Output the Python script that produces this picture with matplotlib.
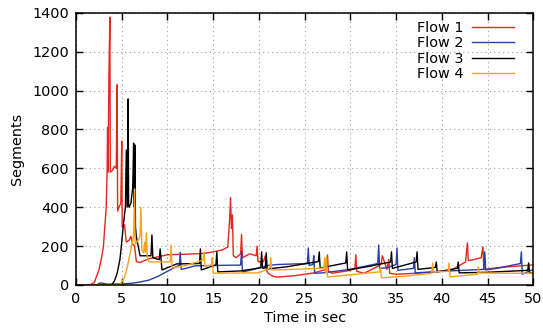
import matplotlib
matplotlib.use("Agg")
import matplotlib.pyplot as plt

# flow traces (time in sec, segments)
flow1_t = [0, 1.5, 2.0, 2.5, 2.8, 3.0, 3.3, 3.4, 3.45, 3.5, 3.6, 3.7, 3.75, 4.0, 4.2, 4.4, 4.5, 4.55,
           4.7, 4.9, 5.0, 5.05, 5.3, 5.5, 5.8, 6.0, 6.2, 6.4, 6.6, 7.0, 8.0, 9.0, 10.0, 12.0, 14.0,
           15.0, 16.0, 16.6, 16.8, 16.9, 17.0, 17.1, 17.2, 17.5, 18.0, 18.1, 18.2, 19.0, 19.7, 19.8,
           19.9, 20.5, 20.7, 20.8, 21.0, 21.5, 22.0, 24.0, 26.0, 27.4, 27.5, 27.6, 28.0, 30.0, 30.5,
           30.6, 30.7, 31.5, 33.2, 33.4, 33.5, 34.0, 34.2, 34.3, 35.0, 38.0, 41.0, 42.6, 42.8, 42.9,
           43.5, 44.3, 44.5, 44.6, 46.0, 48.0, 50.0]
flow1_v = [0, 0, 12, 77, 140, 200, 400, 580, 810, 580, 1080, 1378, 580, 590, 610, 600, 1030, 380,
           400, 420, 740, 300, 310, 220, 230, 250, 210, 200, 120, 115, 135, 145, 155, 158, 162,
           170, 180, 195, 340, 450, 290, 360, 150, 140, 160, 260, 140, 160, 150, 200,
           120, 120, 150, 80, 60, 45, 40, 48, 62, 80, 154, 70, 60, 75, 85,
           155, 70, 60, 100, 113, 150, 80, 130, 60, 55, 62, 75, 118, 216, 125,
           130, 140, 196, 80, 88, 96, 103]

flow2_t = [0, 2.3, 2.6, 3.0, 3.4, 5.0, 6.0, 7.0, 8.0, 9.0, 10.0, 11.0, 11.3, 11.4, 11.5, 12.0, 13.0,
           15.0, 18.0, 18.1, 18.2, 19.0, 20.0, 21.0, 22.0, 25.3, 25.4, 25.5, 25.9, 26.0, 26.1, 27.0,
           30.0, 33.0, 33.1, 33.2, 34.0, 35.0, 35.1, 35.2, 36.9, 37.0, 37.1, 40.0, 44.6, 44.7, 44.8,
           46.0, 48.6, 48.7, 48.8, 50.0]
flow2_v = [0, 0, 10, 8, 4, 5, 8, 15, 25, 45, 70, 95, 100, 168, 80, 85, 98,
           100, 102, 172, 67, 75, 88, 100, 105, 110, 190, 100, 105, 150, 60, 62,
           80, 110, 205, 85, 88, 105, 190, 75, 85, 140, 62, 70, 80, 170, 77,
           85, 110, 170, 55, 80]

flow3_t = [0, 3.9, 4.2, 4.5, 4.8, 5.0, 5.2, 5.4, 5.5, 5.6, 5.7, 5.75, 5.8, 6.0, 6.2, 6.3, 6.35,
           6.45, 6.5, 6.6, 6.8, 7.0, 8.2, 8.3, 8.4, 9.1, 9.2, 9.4, 11.0, 13.5, 13.6, 13.7, 15.3, 15.4,
           15.5, 18.0, 20.2, 20.3, 20.4, 20.7, 20.8, 20.9, 23.0, 26.5, 26.6, 26.7, 29.5, 29.6, 29.7,
           32.0, 34.4, 34.5, 34.6, 37.2, 37.3, 37.4, 39.3, 39.4, 39.5, 41.7, 41.8, 41.9, 45.0,
           49.4, 49.5, 49.6, 50.0]
flow3_v = [0, 0, 20, 60, 130, 220, 320, 400, 694, 400, 957, 410, 400, 420, 500, 730, 400,
           720, 300, 247, 200, 150, 150, 257, 140, 130, 185, 77, 108, 110, 185, 77, 103, 170,
           67, 72, 88, 170, 85, 88, 165, 82, 93, 120, 170, 87, 113, 170, 77,
           95, 118, 170, 85, 118, 170, 80, 90, 118, 67, 85, 118, 62, 65,
           75, 113, 60, 62]

flow4_t = [0, 4.7, 5.0, 5.3, 5.6, 5.9, 6.2, 6.3, 6.4, 6.45, 6.5, 6.8, 7.0, 7.1, 7.2, 7.4, 7.5, 7.6,
           7.7, 7.8, 8.0, 10.3, 10.4, 10.5, 12.0, 13.9, 14.0, 14.1, 14.8, 14.9, 15.0, 20.0, 21.2,
           21.3, 21.4, 24.0, 27.1, 27.2, 27.3, 27.4, 27.5, 30.0, 33.2, 33.3, 33.4, 36.0, 38.9, 39.0,
           39.1, 40.7, 40.8, 40.9, 43.9, 44.0, 44.1, 47.0, 50.0]
flow4_v = [0, 0, 15, 40, 90, 160, 230, 260, 494, 230, 210, 230, 250, 400, 180, 165, 220, 170,
           268, 140, 118, 118, 205, 87, 100, 128, 170, 98, 100, 140, 60, 62, 87,
           140, 77, 80, 87, 140, 60, 145, 41, 52, 67, 87, 36, 45, 60, 113,
           67, 70, 113, 41, 55, 93, 62, 60, 60]

labels = ["Flow 1", "Flow 2", "Flow 3", "Flow 4"]
colors = ["#e3281f", "#2b3e9e", "#000000", "#f5a21c"]
x_ticks = [0, 5, 10, 15, 20, 25, 30, 35, 40, 45, 50]
y_ticks = [0, 200, 400, 600, 800, 1000, 1200, 1400]

plt.rcParams['font.family'] = 'DejaVu Sans'
fig = plt.figure(figsize=(5.43, 3.29), dpi=100)
ax = fig.add_axes([0.140, 0.134, 0.842, 0.827])

series = [(flow1_t, flow1_v), (flow2_t, flow2_v), (flow3_t, flow3_v), (flow4_t, flow4_v)]
for (t, v), lab, c in zip(series, labels, colors):
    ax.plot(t, v, color=c, lw=1.0, label=lab)

ax.set_xlim(0, 50)
ax.set_ylim(0, 1400)
ax.set_xticks(x_ticks)
ax.set_yticks(y_ticks)
ax.tick_params(direction='in', top=True, right=True, length=5, width=1, labelsize=10.4, pad=5)
ax.grid(True, linestyle=(0, (1, 3)), color='#a0a0a0', lw=0.8)
for s in ax.spines.values():
    s.set_linewidth(1.1)
ax.set_xlabel("Time in sec", fontsize=10.4, labelpad=4)
ax.set_ylabel("Segments", fontsize=10.4, labelpad=6)

leg = ax.legend(loc='upper right', bbox_to_anchor=(0.958, 0.971), frameon=False, markerfirst=False,
                fontsize=10.4, handlelength=2.9, labelspacing=0.1, borderaxespad=0, borderpad=0,
                handletextpad=0.6)

fig.savefig("out.png", dpi=100)
